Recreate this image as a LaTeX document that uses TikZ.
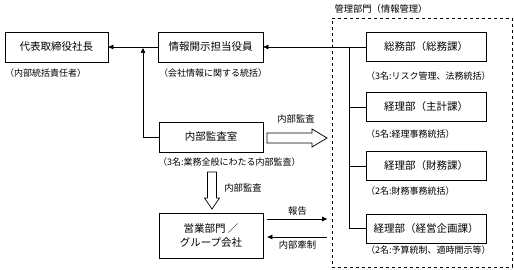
\documentclass[tikz,border=0pt]{standalone}
\usepackage{fontspec}
\setmainfont{Noto Sans CJK JP}
\usetikzlibrary{arrows.meta,positioning}

\begin{document}
\begin{tikzpicture}[x=1pt, y=-1pt, >={Triangle[length=5pt,width=4.5pt]},
    box/.style={rectangle, draw, line width=0.7pt, minimum width=104pt, minimum height=30pt, inner sep=0pt, font=\fontsize{10.5}{13.5}\selectfont},
    rbox/.style={box, minimum width=120pt, minimum height=29pt},
    captxt/.style={anchor=west, inner sep=0pt, font=\fontsize{9}{10}\selectfont},
    lbl/.style={inner sep=0pt, font=\fontsize{9.3}{10}\selectfont},
    conn/.style={line width=0.7pt},
    hollow/.style={draw, line width=0.7pt, fill=white}]
    \useasboundingbox (0,0) rectangle (514,270);

    % left side
    \node[box, minimum width=103pt] (pres) at (56.5,47) {代表取締役社長};
    \node[box, minimum width=105pt] (disc) at (210.5,47) {情報開示担当役員};
    \node[box] (audit) at (211,137) {内部監査室};
    \node[box, minimum height=45pt, align=center] (sales) at (211,235.5) {営業部門\ ／\\グループ会社};

    \node[captxt] (presc) at (5,73) {（内部統括責任者）};
    \node[captxt] (discc) at (159,73) {（会社情報に関する統括）};
    \node[captxt] (auditc) at (158,162) {（3名:業務全般にわたる内部監査）};

    % management department
    \node[draw, dashed, line width=0.6pt, minimum width=180pt, minimum height=249pt] (mgmt) at (422,142.5) {};
    \node[lbl] (mgmtl) at (381,9) {管理部門（情報管理）};

    \node[rbox] (gen) at (426,47) {総務部（総務課）};
    \node[rbox] (acc) at (426,107) {経理部（主計課）};
    \node[rbox] (fin) at (426,166) {経理部（財務課）};
    \node[rbox] (plan) at (426,228.5) {経理部（経営企画課）};

    \node[captxt] (genc) at (366,76) {（3名:リスク管理、法務統括）};
    \node[captxt] (accc) at (366,134) {（5名:経理事務統括）};
    \node[captxt] (finc) at (366,191) {（2名:財務事務統括）};
    \node[captxt] (planc) at (366,250) {（2名:予算統制、適時開示等）};

    % reporting lines
    \draw[conn, ->] (disc) -- (pres);
    \coordinate (jn) at (143,47);
    \draw[conn, ->, shorten >=1pt] (audit.west) -| (jn);
    \draw[conn, ->] (gen) -- (disc);
    \coordinate (trunk) at (349,0);
    \draw[conn] (trunk |- gen.west) |- (plan.west);
    \draw[conn] (trunk |- acc.west) -- (acc.west);
    \draw[conn] (trunk |- fin.west) -- (fin.west);

    % hollow arrows
    \draw[hollow] (267,133) -- (312,133) -- (312,129) -- (327,138) -- (312,147) -- (312,143) -- (267,143) -- cycle;
    \node[lbl] (ia1) at (296,119) {内部監査};
    \draw[hollow] (207.5,172) -- (216.5,172) -- (216.5,198) -- (219.5,198) -- (212,209) -- (204.5,198) -- (207.5,198) -- cycle;
    \node[lbl] (ia2) at (243,188) {内部監査};

    % report / control
    \coordinate (rep) at (0,219);
    \coordinate (ctl) at (0,237);
    \draw[conn, ->, shorten <=4pt, shorten >=4.5pt] (sales.east |- rep) -- (mgmt.west |- rep) node[lbl, midway, above=3.5pt] (repl) {報告};
    \draw[conn, <-, shorten <=4pt, shorten >=4.5pt] (sales.east |- ctl) -- (mgmt.west |- ctl) node[lbl, midway, below=3.5pt] (ctll) {内部牽制};
\end{tikzpicture}
\end{document}
